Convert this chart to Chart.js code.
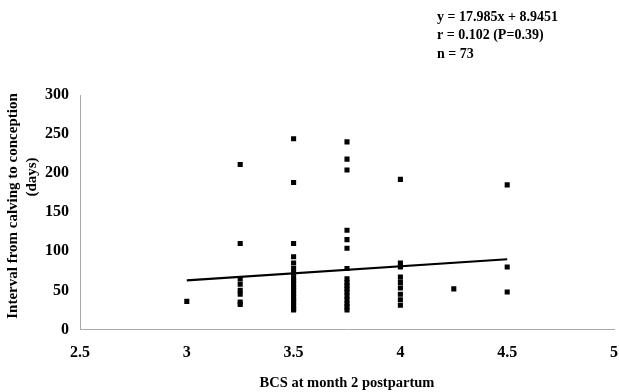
<!DOCTYPE html>
<html lang="en">
<head>
    <meta charset="UTF-8">
    <title>BCS vs interval to conception</title>
    <style>
        html, body {
            margin: 0;
            padding: 0;
            background: #fff;
        }
        #chartContainer {
            width: 619px;
            height: 392px;
        }
    </style>
    <script src="https://cdn.jsdelivr.net/npm/chart.js"></script>
</head>
<body>

    <div id="chartContainer">
        <canvas id="myChart"></canvas>
    </div>

    <script>
        const bcsGroups = [3, 3.25, 3.5, 3.75, 4, 4.25, 4.5];
        const daysByGroup = [
            [36],
            [211, 110, 65, 58, 50, 45, 35, 32],
            [244, 188, 110, 93, 85, 78, 72, 66, 62, 58, 54, 50, 46, 42, 38, 35, 31, 27, 25],
            [240, 218, 204, 127, 115, 104, 78, 65, 60, 56, 52, 48, 43, 38, 33, 29, 25],
            [192, 85, 80, 67, 60, 53, 45, 38, 31],
            [52],
            [185, 80, 48]
        ];
        const slope = 17.985;
        const intercept = 8.9451;
        const fitRange = [3, 4.5];
        const xTicks = [2.5, 3, 3.5, 4, 4.5, 5];
        const yTicks = [0, 50, 100, 150, 200, 250, 300];
        const noteLines = ['y = 17.985x + 8.9451', 'r = 0.102 (P=0.39)', 'n = 73'];
        const yTitleLines = ['Interval from calving to conception', '(days)'];

        const points = [];
        bcsGroups.forEach((x, i) => {
            daysByGroup[i].forEach(y => points.push({ x: x, y: y }));
        });
        const fitLine = fitRange.map(x => ({ x: x, y: slope * x + intercept }));

        const serif = "'Liberation Serif', 'Times New Roman', serif";

        // equation text top right, and the two-line y title (second line sits off centre like the original)
        const notePlugin = {
            id: 'note',
            afterDraw(chart) {
                const c = chart.ctx;
                c.save();
                c.font = 'bold 14px ' + serif;
                c.fillStyle = '#000';
                c.textBaseline = 'middle';
                noteLines.forEach((t, i) => c.fillText(t, 437, 17 + i * 18.5));

                c.font = 'bold 15px ' + serif;
                c.textAlign = 'center';
                c.translate(13, 206);
                c.rotate(-Math.PI / 2);
                c.fillText(yTitleLines[0], 0, 0);
                c.fillText(yTitleLines[1], 29, 19);
                c.restore();
            }
        };

        const ctx = document.getElementById('myChart').getContext('2d');
        const myChart = new Chart(ctx, {
            type: 'scatter',
            data: {
                datasets: [
                    {
                        label: 'fit',
                        type: 'line',
                        data: fitLine,
                        borderColor: '#000',
                        borderWidth: 2.2,
                        pointRadius: 0,
                        fill: false
                    },
                    {
                        label: 'cows',
                        data: points,
                        pointStyle: 'rect',
                        pointRadius: 3.6,
                        backgroundColor: '#000',
                        borderColor: '#000',
                        borderWidth: 0
                    }
                ]
            },
            options: {
                responsive: true,
                maintainAspectRatio: false,
                animation: false,
                layout: {
                    padding: { top: 95, right: 5, left: 0, bottom: 0 }
                },
                plugins: {
                    legend: { display: false },
                    tooltip: { enabled: false }
                },
                scales: {
                    x: {
                        type: 'linear',
                        min: 2.5,
                        max: 5,
                        afterBuildTicks: axis => { axis.ticks = xTicks.map(v => ({ value: v })); },
                        afterFit: axis => {
                            axis.height = 62.5;
                            axis.paddingLeft = 0;
                            axis.paddingRight = 0;
                        },
                        grid: { drawOnChartArea: false, drawTicks: false },
                        border: { color: '#aaa', dash: [1, 2], width: 1 },
                        ticks: {
                            color: '#000',
                            padding: 14,
                            callback: v => String(v),
                            font: { family: serif, size: 16, weight: 'bold' }
                        },
                        title: {
                            display: true,
                            text: 'BCS at month 2 postpartum',
                            color: '#000',
                            padding: { top: 7, bottom: 0 },
                            font: { family: serif, size: 14.5, weight: 'bold' }
                        }
                    },
                    y: {
                        min: 0,
                        max: 300,
                        afterBuildTicks: axis => { axis.ticks = yTicks.map(v => ({ value: v })); },
                        afterFit: axis => { axis.width = 80; },
                        grid: { drawOnChartArea: false, drawTicks: false },
                        border: { color: '#aaa', dash: [1, 2], width: 1 },
                        ticks: {
                            color: '#000',
                            padding: 11,
                            font: { family: serif, size: 16, weight: 'bold' }
                        },
                        title: { display: false }
                    }
                }
            },
            plugins: [notePlugin]
        });
    </script>
</body>
</html>
